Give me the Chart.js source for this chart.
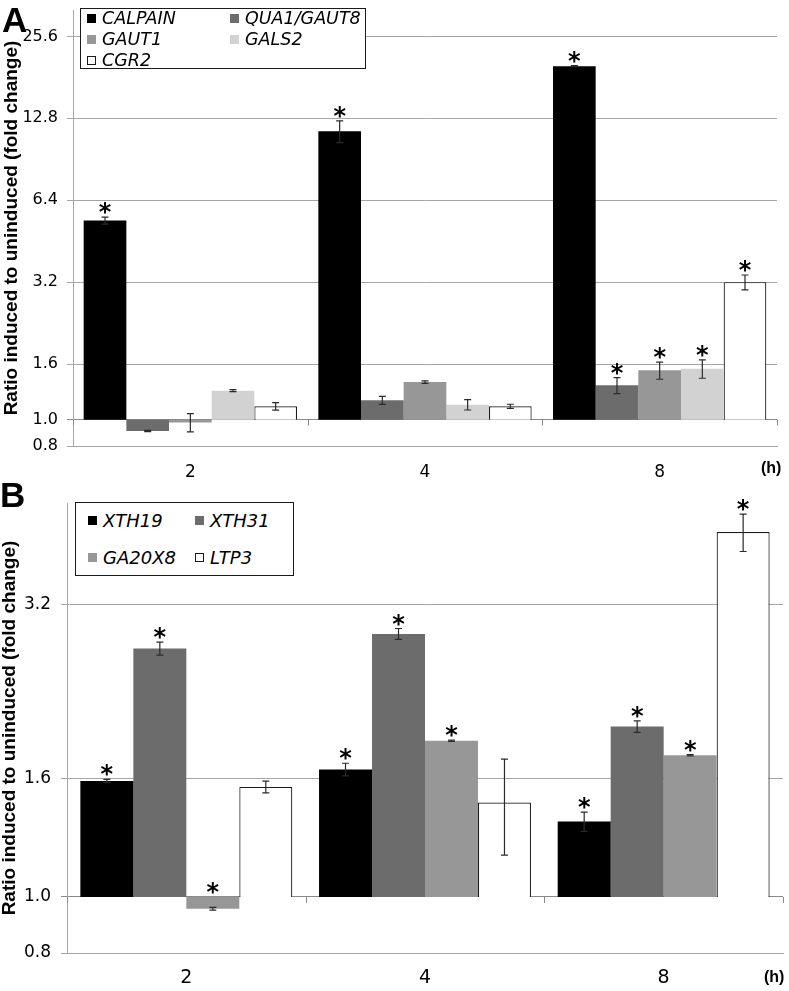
<!DOCTYPE html>
<html>
<head>
<meta charset="utf-8">
<script src="https://cdn.jsdelivr.net/npm/chart.js@4.4.0/dist/chart.umd.min.js"></script>
<style>
  body { margin: 0; background: #fff; }
  #page { position: relative; width: 789px; height: 991px; overflow: hidden; }
  canvas { position: absolute; left: 0; }
  .panel { position: absolute; font: bold 35px "Liberation Sans", Arial, sans-serif; line-height: 1; }
  .unit { position: absolute; font: bold 16px "Liberation Sans", Arial, sans-serif; line-height: 1; }
  .legend { position: absolute; box-sizing: border-box; border: 1px solid #1a1a1a; background: #fff;
            font-family: "DejaVu Sans", sans-serif; font-style: italic; color: #000; }
  .legend .item { position: absolute; height: 20px; display: flex; align-items: center; white-space: nowrap; }
  .legend .box { width: 9px; height: 9px; box-sizing: border-box; margin-right: 6px; }
</style>
</head>
<body>
<div id="page">
  <canvas id="chartA" width="789" height="490" style="top:0"></canvas>
  <canvas id="chartB" width="789" height="501" style="top:490px"></canvas>
  <div id="legendA" class="legend" style="left:80px;top:8px;width:286px;height:61px;font-size:17.5px"></div>
  <div id="legendB" class="legend" style="left:75px;top:502px;width:219px;height:74px;font-size:18px"></div>
  <div class="panel" style="left:2px;top:2px">A</div>
  <div class="panel" style="left:0px;top:477px">B</div>
  <div class="unit" style="left:761px;top:460px">(h)</div>
  <div class="unit" style="left:764px;top:969px">(h)</div>
</div>

<script>
// panel A
const hoursA = ["2", "4", "8"];
const genesA = ["CALPAIN", "QUA1/GAUT8", "GAUT1", "GALS2", "CGR2"];
const calpain = [5.39, 11.47, 19.9];
const qua1 = [0.908, 1.177, 1.337];
const gaut1 = [0.977, 1.374, 1.517];
const gals2 = [1.278, 1.135, 1.539];
const cgr2 = [1.119, 1.119, 3.2];
const calpainErr = [0.16, 1.05, 0.1];
const qua1Err = [0.005, 0.04, 0.09];
const gaut1Err = [0.075, 0.015, 0.11];
const gals2Err = [0.01, 0.05, 0.12];
const cgr2Err = [0.035, 0.02, 0.2];
const calpainSig = [true, true, true];
const qua1Sig = [false, false, true];
const gaut1Sig = [false, false, true];
const gals2Sig = [false, false, true];
const cgr2Sig = [false, false, true];
const ticksA = [0.8, 1.0, 1.6, 3.2, 6.4, 12.8, 25.6];

// panel B
const hoursB = ["2", "4", "8"];
const genesB = ["XTH19", "XTH31", "GA20X8", "LTP3"];
const xth19 = [1.587, 1.661, 1.35];
const xth31 = [2.689, 2.85, 1.971];
const ga20x8 = [0.954, 1.862, 1.758];
const ltp3 = [1.55, 1.456, 4.275];
const xth19Err = [0.01, 0.042, 0.052];
const xth31Err = [0.07, 0.062, 0.045];
const ga20x8Err = [0.005, 0.005, 0.005];
const ltp3Err = [0.036, 0.275, 0.318];
const xth19Sig = [true, true, true];
const xth31Sig = [true, true, true];
const ga20x8Sig = [true, true, true];
const ltp3Sig = [false, false, true];
const ticksB = [0.8, 1.0, 1.6, 3.2];

const yTitle = "Ratio induced to uninduced (fold change)";
const colorsA = ["#000000", "#6c6c6c", "#979797", "#d2d2d2", "#ffffff"];
const colorsB = ["#000000", "#6c6c6c", "#979797", "#ffffff"];

Chart.defaults.font.family = '"DejaVu Sans", sans-serif';

// error bars, asterisks and the category ticks on the 1.0 line
const errorBarPlugin = {
  id: "errorBars",
  afterDatasetsDraw(chart) {
    const ctx = chart.ctx;
    const y = chart.scales.y;
    const xs = chart.scales.x;
    ctx.save();
    chart.data.datasets.forEach((ds, i) => {
      const meta = chart.getDatasetMeta(i);
      meta.data.forEach((bar, j) => {
        const v = ds.values[j];
        const e = ds.errors[j];
        const top = y.getPixelForValue(v + e);
        const bot = y.getPixelForValue(v - e);
        ctx.strokeStyle = "#2a2a2a";
        ctx.lineWidth = 1.2;
        ctx.beginPath();
        ctx.moveTo(bar.x, top);
        ctx.lineTo(bar.x, bot);
        ctx.moveTo(bar.x - 3.5, top);
        ctx.lineTo(bar.x + 3.5, top);
        ctx.moveTo(bar.x - 3.5, bot);
        ctx.lineTo(bar.x + 3.5, bot);
        ctx.stroke();
        if (ds.stars[j]) {
          const starTop = y.getPixelForValue(Math.max(v + e, 1));
          ctx.fillStyle = "#000";
          ctx.font = 'bold 24px "DejaVu Sans"';
          ctx.textAlign = "center";
          ctx.textBaseline = "alphabetic";
          ctx.fillText("*", bar.x, starTop + 3);
        }
      });
    });
    const y1 = y.getPixelForValue(1);
    const n = xs.ticks.length;
    ctx.strokeStyle = "#8a8a8a";
    ctx.lineWidth = 1;
    ctx.beginPath();
    for (let k = 0; k <= n; k++) {
      let px;
      if (k === 0) px = chart.chartArea.left;
      else if (k === n) px = chart.chartArea.right;
      else px = (xs.getPixelForValue(k - 1) + xs.getPixelForValue(k)) / 2;
      px = Math.round(px) + 0.5;
      ctx.moveTo(px, y1);
      ctx.lineTo(px, y1 + 6);
    }
    ctx.stroke();
    ctx.restore();
  },
};

function buildDatasets(names, series, errors, stars, colors, catPct) {
  return names.map((name, i) => ({
    label: name,
    data: series[i].map((v) => [1, v]),
    values: series[i],
    errors: errors[i],
    stars: stars[i],
    backgroundColor: colors[i],
    borderColor: colors[i] === "#ffffff" ? "#1a1a1a" : colors[i],
    borderWidth: colors[i] === "#ffffff" ? 1.2 : 0,
    barPercentage: 1,
    categoryPercentage: catPct,
  }));
}

function makeChart(id, labels, datasets, cfg) {
  return new Chart(document.getElementById(id), {
    type: "bar",
    data: { labels: labels, datasets: datasets },
    options: {
      responsive: false,
      animation: false,
      events: [],
      layout: { padding: { left: 0, top: cfg.top, right: cfg.right, bottom: 0 } },
      plugins: { legend: { display: false }, tooltip: { enabled: false } },
      scales: {
        x: {
          type: "category",
          offset: true,
          grid: { display: false, drawTicks: false },
          border: { display: true, color: "#a6a6a6" },
          ticks: { color: "#000", font: { size: cfg.xFont }, padding: cfg.xPad, maxRotation: 0 },
          afterFit: (s) => {
            s.height = cfg.xHeight;
            s.paddingLeft = 0;
            s.paddingRight = 0;
          },
        },
        y: {
          type: "logarithmic",
          min: cfg.min,
          max: cfg.max,
          afterBuildTicks: (s) => { s.ticks = cfg.ticks.map((v) => ({ value: v })); },
          afterFit: (s) => {
            s.width = cfg.yWidth;
            s.paddingTop = 0;
            s.paddingBottom = 0;
          },
          ticks: {
            color: "#000",
            font: { size: cfg.yFont },
            padding: cfg.yPad,
            autoSkip: false,
            callback: (v) => Number(v).toFixed(1),
          },
          grid: {
            color: (c) => (c.tick && c.tick.value === 1 ? "#8a8a8a" : "#a6a6a6"),
            tickLength: 6,
            lineWidth: 1,
          },
          border: { display: true, color: "#a6a6a6" },
          title: {
            display: true,
            text: yTitle,
            color: "#000",
            font: { family: '"Liberation Sans", Arial, sans-serif', size: 19, weight: "bold", lineHeight: 1 },
            padding: { top: cfg.titlePad, bottom: 0 },
          },
        },
      },
    },
    plugins: [errorBarPlugin],
  });
}

function buildLegend(id, names, colors, cols, rows) {
  const box = document.getElementById(id);
  names.forEach((name, i) => {
    const item = document.createElement("div");
    item.className = "item";
    item.style.left = cols[i % 2] + "px";
    item.style.top = rows[Math.floor(i / 2)] - 10 + "px";
    const sw = document.createElement("span");
    sw.className = "box";
    sw.style.background = colors[i];
    if (colors[i] === "#ffffff") sw.style.border = "1px solid #1a1a1a";
    item.appendChild(sw);
    item.appendChild(document.createTextNode(name));
    box.appendChild(item);
  });
}

const dsA = buildDatasets(
  genesA,
  [calpain, qua1, gaut1, gals2, cgr2],
  [calpainErr, qua1Err, gaut1Err, gals2Err, cgr2Err],
  [calpainSig, qua1Sig, gaut1Sig, gals2Sig, cgr2Sig],
  colorsA,
  0.909
);
const chartA = makeChart("chartA", hoursA, dsA, {
  top: 10, right: 12, xHeight: 44, xFont: 17, xPad: 16,
  min: 0.8, max: 32, ticks: ticksA, yWidth: 73, yFont: 16, yPad: 9, titlePad: 2.6,
});

const dsB = buildDatasets(
  genesB,
  [xth19, xth31, ga20x8, ltp3],
  [xth19Err, xth31Err, ga20x8Err, ltp3Err],
  [xth19Sig, xth31Sig, ga20x8Sig, ltp3Sig],
  colorsB,
  0.888
);
const chartB = makeChart("chartB", hoursB, dsB, {
  top: 13, right: 6, xHeight: 38, xFont: 19, xPad: 14,
  min: 0.8, max: 4.8, ticks: ticksB, yWidth: 67, yFont: 17, yPad: 10, titlePad: 0,
});

buildLegend("legendA", genesA, colorsA, [6, 149], [9.3, 30.3, 51]);
buildLegend("legendB", genesB, colorsB, [12, 119], [17, 54.3]);
</script>
</body>
</html>
